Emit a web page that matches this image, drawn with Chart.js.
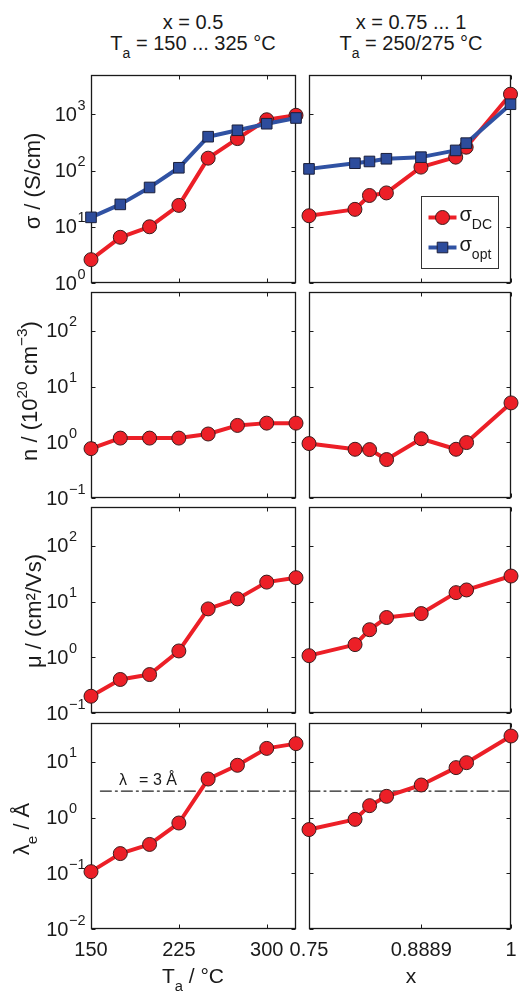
<!DOCTYPE html>
<html>
<head>
<meta charset="utf-8">
<title>Conductivity, carrier density, mobility and mean free path</title>
<script src="https://cdn.jsdelivr.net/npm/chart.js@4.4.1/dist/chart.umd.min.js"></script>
<style>
  html, body { margin: 0; background: #fff; }
  #fig { position: relative; width: 519px; height: 992px; overflow: hidden;
         font-family: "Liberation Sans", Arial, Helvetica, sans-serif; color: #1a1a1a; }
  #fig canvas { position: absolute; left: 0; }
  .lbl { position: absolute; font-size: 20px; line-height: 22px; white-space: nowrap;
         transform: translate(-50%, -50%); }
  .ylab { font-size: 22px; }
  .xlab { font-size: 21px; }
  .rot { transform: translate(-50%, -50%) rotate(-90deg); }
  sub, sup { font-size: 0.7em; line-height: 0; position: relative; vertical-align: baseline; }
  sub { top: 0.55em; }
  sup { top: -0.65em; }
</style>
</head>
<body>
<div id="fig">
  <div class="lbl" style="left:193px; top:22px">x = 0.5</div>
  <div class="lbl" style="left:193px; top:43px">T<sub>a</sub> = 150 ... 325 °C</div>
  <div class="lbl" style="left:411px; top:22px">x = 0.75 ... 1</div>
  <div class="lbl" style="left:411px; top:43px">T<sub>a</sub> = 250/275 °C</div>

  <div class="lbl ylab rot" style="left:33px; top:181px">σ / (S/cm)</div>
  <div class="lbl ylab rot" style="left:30px; top:391px">n / (10<sup>20</sup> cm<sup>−3</sup>)</div>
  <div class="lbl ylab rot" style="left:34px; top:611px">μ / (cm²/Vs)</div>
  <div class="lbl ylab rot" style="left:22px; top:829px">λ<sub>e</sub> / Å</div>

  <div class="lbl xlab" style="left:193px; top:976px">T<sub>a</sub> / °C</div>
  <div class="lbl xlab" style="left:411px; top:976px">x</div>
</div>

<script>
// annealing series (x = 0.5) and composition series (Ta = 250/275 °C)
const annealTemps = [150, 175, 200, 225, 250, 275, 300, 325];
const compositions = [0.75, 0.807, 0.825, 0.846, 0.8889, 0.932, 0.945, 1];

const sigmaDcTemp  = [2.6, 6.5, 10, 24, 166, 370, 800, 960];
const sigmaOptTemp = [14.7, 25, 50, 112, 400, 520, 680, 860];
const sigmaDcComp  = [15.7, 20.4, 36, 40, 115, 173, 260, 2280];
const sigmaOptComp = [107, 135, 145, 162, 173, 228, 307, 1510];

const nTemp = [0.77, 1.19, 1.19, 1.19, 1.41, 2.01, 2.21, 2.21];
const nComp = [0.95, 0.75, 0.74, 0.49, 1.16, 0.75, 0.99, 5.1];

const muTemp = [0.2, 0.4, 0.49, 1.3, 7.4, 11.2, 22.4, 26.9];
const muComp = [1.07, 1.69, 3.13, 5.18, 6.1, 14.5, 16.2, 28.8];

const lambdaTemp = [0.107, 0.226, 0.33, 0.8, 4.93, 8.7, 17.5, 21.3];
const lambdaComp = [0.61, 0.93, 1.64, 2.41, 3.85, 7.9, 9.7, 29.2];

const lambdaLimit = 3;

// axis ticks
const tempTicks = [150, 225, 300];
const tempTickLabels = ['150', '225', '300'];
const compTicks = [0.75, 0.8889, 1];
const compTickLabels = ['0.75', '0.8889', '1'];
const sigmaDecades = [0, 1, 2, 3];
const nDecades = [-1, 0, 1, 2];
const muDecades = [-1, 0, 1, 2];
const lambdaDecades = [-2, -1, 0, 1];

// panel frame positions on the page
const rowTops = [75, 292, 507, 723];
const rowBottoms = [283, 498, 713, 929];
const colLefts = [91, 309];
const colRights = [296, 514];
const FIG_W = 519;

const RED = '#ec1f27', RED_EDGE = '#3a1c1c';
const BLUE = '#3052a3', BLUE_FILL = '#2d4c9c', BLUE_EDGE = '#1b1f3a';
const FONT = '"Liberation Sans", Arial, Helvetica, sans-serif';
const INK = '#1a1a1a';

function points(xs, ys) {
  return xs.map((x, i) => ({ x, y: ys[i] }));
}

function redSeries(xs, ys) {
  return {
    label: 'σDC', data: points(xs, ys),
    borderColor: RED, backgroundColor: RED, borderWidth: 4,
    pointStyle: 'circle', pointRadius: 7, pointBackgroundColor: RED,
    pointBorderColor: RED_EDGE, pointBorderWidth: 1,
    clip: false, order: 2
  };
}

function blueSeries(xs, ys) {
  return {
    label: 'σopt', data: points(xs, ys),
    borderColor: BLUE, backgroundColor: BLUE_FILL, borderWidth: 4,
    pointStyle: 'rect', pointRadius: 7.5, pointBackgroundColor: BLUE_FILL,
    pointBorderColor: BLUE_EDGE, pointBorderWidth: 1,
    clip: false, order: 1
  };
}

function limitLine(x0, x1) {
  return {
    label: 'limit', data: [{ x: x0, y: lambdaLimit }, { x: x1, y: lambdaLimit }],
    borderColor: '#222', borderWidth: 1.2, borderDash: [11, 4, 2, 4],
    pointRadius: 0, clip: false, order: 5
  };
}

// MATLAB style box, inward ticks, 10^k labels, optional legend
const matlabAxes = {
  id: 'matlabAxes',
  beforeDatasetsDraw(chart, args, o) {
    const { ctx, chartArea: a, scales: { x, y } } = chart;
    const L = Math.round(a.left) + 0.5, R = Math.round(a.right) - 0.5;
    const T = Math.round(a.top) + 0.5, B = Math.round(a.bottom) - 0.5;
    const tl = 4;
    ctx.save();
    ctx.strokeStyle = INK;
    ctx.lineWidth = 1;
    ctx.beginPath();
    o.yDecades.forEach(d => {
      const py = Math.round(y.getPixelForValue(Math.pow(10, d))) + 0.5;
      ctx.moveTo(L, py); ctx.lineTo(L + tl, py);
      ctx.moveTo(R, py); ctx.lineTo(R - tl, py);
    });
    o.xTicks.forEach(v => {
      const px = Math.round(x.getPixelForValue(v)) + 0.5;
      ctx.moveTo(px, T); ctx.lineTo(px, T + tl);
      ctx.moveTo(px, B); ctx.lineTo(px, B - tl);
    });
    ctx.stroke();
    ctx.lineWidth = 1.3;
    ctx.strokeRect(L, T, R - L, B - T);

    ctx.fillStyle = INK;
    ctx.textBaseline = 'middle';
    if (o.yLabels) {
      const big = '20px ' + FONT, small = '14.5px ' + FONT;
      const expText = d => String(d).replace('-', '−');
      ctx.font = big;
      const w10 = ctx.measureText('10').width;
      ctx.font = small;
      const maxW = Math.max(...o.yDecades.map(d => w10 + ctx.measureText(expText(d)).width));
      const x0 = a.left - 6 - maxW;
      o.yDecades.forEach(d => {
        const py = y.getPixelForValue(Math.pow(10, d));
        ctx.textAlign = 'left';
        ctx.font = big;
        ctx.fillText('10', x0, py + 1);
        ctx.font = small;
        ctx.fillText(expText(d), x0 + w10 + 0.5, py - 8.5);
      });
    }
    if (o.xLabels) {
      ctx.font = '20px ' + FONT;
      ctx.textAlign = 'center';
      o.xTicks.forEach((v, i) => {
        ctx.fillText(o.xLabels[i], x.getPixelForValue(v), a.bottom + 21);
      });
    }
    if (o.limitLabelAt) {
      const px = x.getPixelForValue(o.limitLabelAt);
      const py = y.getPixelForValue(lambdaLimit) - 10;
      ctx.font = '16px ' + FONT;
      ctx.textAlign = 'left';
      ctx.fillText('λ', px, py);
      ctx.fillText('= 3 Å', px + 20, py);
    }
    ctx.restore();
  },
  afterDatasetsDraw(chart, args, o) {
    if (!o.legend) return;
    const { ctx, chartArea: a } = chart;
    const bx = Math.round(a.right) - 89.5, by = Math.round(a.top) + 121.5;
    const bw = 77, bh = 72;
    ctx.save();
    ctx.fillStyle = '#fff';
    ctx.fillRect(bx, by, bw, bh);
    ctx.strokeStyle = '#333';
    ctx.lineWidth = 1;
    ctx.strokeRect(bx, by, bw, bh);
    const entries = [
      { ds: chart.data.datasets[0], main: 'σ', sub: 'DC', dy: 21 },
      { ds: chart.data.datasets[1], main: 'σ', sub: 'opt', dy: 51 }
    ];
    entries.forEach(e => {
      const ly = by + e.dy;
      ctx.strokeStyle = e.ds.borderColor;
      ctx.lineWidth = e.ds.borderWidth;
      ctx.beginPath();
      ctx.moveTo(bx + 7, ly); ctx.lineTo(bx + 35, ly);
      ctx.stroke();
      ctx.fillStyle = e.ds.pointBackgroundColor;
      ctx.strokeStyle = e.ds.pointBorderColor;
      ctx.lineWidth = 1;
      ctx.beginPath();
      if (e.ds.pointStyle === 'circle') {
        ctx.arc(bx + 21, ly, e.ds.pointRadius, 0, Math.PI * 2);
      } else {
        const s = e.ds.pointRadius * Math.SQRT1_2;
        ctx.rect(bx + 21 - s, ly - s, 2 * s, 2 * s);
      }
      ctx.fill();
      ctx.stroke();
      ctx.fillStyle = INK;
      ctx.textAlign = 'left';
      ctx.textBaseline = 'alphabetic';
      ctx.font = '20px ' + FONT;
      ctx.fillText(e.main, bx + 38, ly + 3);
      const w = ctx.measureText(e.main).width;
      ctx.font = '14px ' + FONT;
      ctx.fillText(e.sub, bx + 38 + w, ly + 11);
    });
    ctx.restore();
  }
};

const fig = document.getElementById('fig');

function makePanel(row, col, datasets, yMin, yMax, yDecades, extra) {
  const top = rowTops[row] - 10;
  const bottomPad = row === 3 ? 40 : 10;
  const height = rowBottoms[row] - rowTops[row] + 10 + bottomPad;
  const canvas = document.createElement('canvas');
  canvas.width = FIG_W;
  canvas.height = height;
  canvas.style.top = top + 'px';
  fig.insertBefore(canvas, fig.firstChild);

  const xTicks = col === 0 ? tempTicks : compTicks;
  const xLabels = row === 3 ? (col === 0 ? tempTickLabels : compTickLabels) : null;

  return new Chart(canvas, {
    type: 'line',
    data: { datasets },
    plugins: [matlabAxes],
    options: {
      responsive: false,
      animation: false,
      devicePixelRatio: 1,
      events: [],
      layout: {
        padding: {
          left: colLefts[col],
          right: FIG_W - colRights[col],
          top: 10,
          bottom: bottomPad
        }
      },
      elements: { line: { tension: 0, borderJoinStyle: 'round', borderCapStyle: 'round' } },
      scales: {
        x: col === 0
          ? { type: 'linear', min: 150, max: 325, display: false }
          : { type: 'linear', min: 0.75, max: 1, display: false },
        y: { type: 'logarithmic', min: yMin, max: yMax, display: false }
      },
      plugins: {
        legend: { display: false },
        tooltip: { enabled: false },
        matlabAxes: Object.assign({
          yDecades, xTicks, xLabels, yLabels: col === 0
        }, extra || {})
      }
    }
  });
}

// conductivity
makePanel(0, 0, [redSeries(annealTemps, sigmaDcTemp), blueSeries(annealTemps, sigmaOptTemp)], 1, 5000, sigmaDecades);
makePanel(0, 1, [redSeries(compositions, sigmaDcComp), blueSeries(compositions, sigmaOptComp)], 1, 5000, sigmaDecades, { legend: true });

// carrier density
makePanel(1, 0, [redSeries(annealTemps, nTemp)], 0.1, 500, nDecades);
makePanel(1, 1, [redSeries(compositions, nComp)], 0.1, 500, nDecades);

// mobility
makePanel(2, 0, [redSeries(annealTemps, muTemp)], 0.1, 500, muDecades);
makePanel(2, 1, [redSeries(compositions, muComp)], 0.1, 500, muDecades);

// mean free path with the 3 Å limit
makePanel(3, 0, [redSeries(annealTemps, lambdaTemp), limitLine(158, 325)], 0.01, 50, lambdaDecades, { limitLabelAt: 174 });
makePanel(3, 1, [redSeries(compositions, lambdaComp), limitLine(0.75, 1)], 0.01, 50, lambdaDecades);
</script>
</body>
</html>
